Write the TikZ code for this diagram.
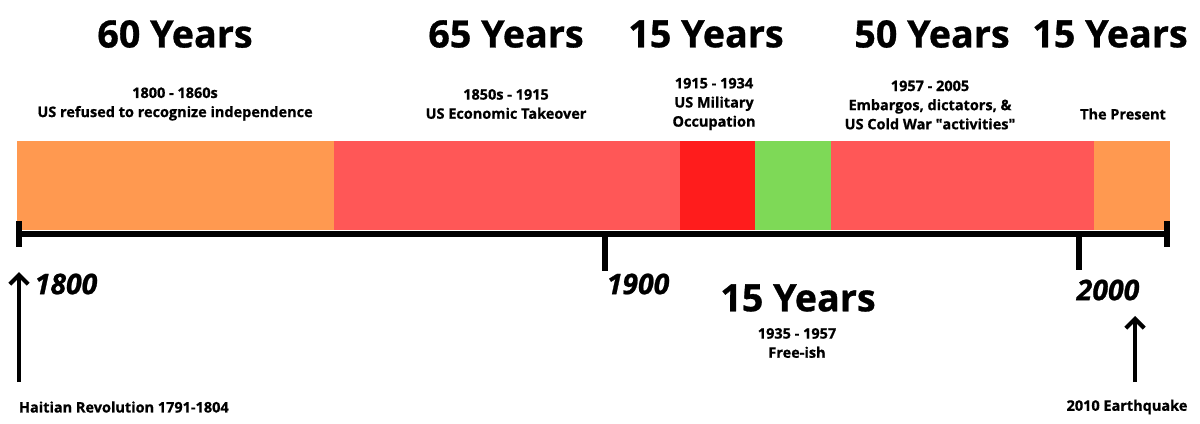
\documentclass[tikz,border=0pt]{standalone}
\usepackage{fontspec}
\setmainfont{Open Sans}[BoldFeatures={FakeBold=0.8},BoldItalicFeatures={FakeBold=0.8}]
\usepackage{tikz}
\usetikzlibrary{arrows.meta,positioning}
\definecolor{haitiorange}{HTML}{FF9950}
\definecolor{haitirose}{HTML}{FF5757}
\definecolor{haitired}{HTML}{FF1C1C}
\definecolor{haitigreen}{HTML}{7ED957}
\tikzset{
  era/.style={font=\fontsize{26.8}{30}\selectfont\bfseries},
  info/.style={font=\fontsize{10.3}{13.6}\selectfont\bfseries, align=center},
  yearlabel/.style={font=\fontsize{20.2}{24}\selectfont\bfseries\itshape},
  axis/.style={line width=3.6pt},
  pointer/.style={line width=3pt, -{Straight Barb[length=6.5pt,width=13pt,line width=3pt]}}
}
\begin{document}
\begin{tikzpicture}[x=0.025cm,y=-0.025cm]
\useasboundingbox (0,0) rectangle (1200,423);
% coloured periods
\fill[haitiorange] (17,141) rectangle (334,230);
\fill[haitirose] (334,141) rectangle (680,230);
\fill[haitired] (680,141) rectangle (755,230);
\fill[haitigreen] (755,141) rectangle (831,230);
\fill[haitirose] (831,141) rectangle (1094,230);
\fill[haitiorange] (1094,141) rectangle (1170,230);
% time axis
\coordinate (start) at (19,234);
\coordinate (end) at (1167,234);
\coordinate (t1900) at (605,234);
\coordinate (t2000) at (1079,234);
\draw[axis] (start) -- (end);
\draw[axis] ([yshift=-9]start) -- ([yshift=9]start);
\draw[axis] ([yshift=-9]end) -- ([yshift=9]end);
\draw[axis] (t1900) -- ++(0,37);
\draw[axis] (t2000) -- ++(0,36);
\node[yearlabel] (y1800) at (66,284) {1800};
\node[yearlabel] (y1900) at (638,284) {1900};
\node[yearlabel] (y2000) at (1108,290) {2000};
% headings
\node[era] (e1) at (175,34) {60 Years};
\node[era] (e2) at (506,34) {65 Years};
\node[era] (e3) at (706,34) {15 Years};
\node[era] (e4) at (932,34) {50 Years};
\node[era] (e5) at (1110,34) {15 Years};
\node[era] (e6) at (798,298) {15 Years};
% descriptions
\node[info] (d1) at (175,104) {1800 - 1860s\\US refused to recognize independence};
\node[info] (d2) at (506,104) {1850s - 1915\\US Economic Takeover};
\node[info] (d3) at (714,104) {1915 - 1934\\US Military\\Occupation};
\node[info] (d4) at (930,105) {1957 - 2005\\Embargos, dictators, \&\\US Cold War \textquotedbl activities\textquotedbl};
\node[info] (d5) at (1123,114) {The Present};
\node[info] (d6) at (797,343) {1935 - 1957\\Free-ish};
% events
\node[info, anchor=west] (revolution) at (14,407) {Haitian Revolution 1791-1804};
\node[info] (quake) at (1127,407) {2010 Earthquake};
\coordinate (revtip) at (19,272);
\coordinate (quaketip) at (1135,316);
\draw[pointer] (19,382) -- (revtip);
\draw[pointer] (1135,382) -- (quaketip);
\end{tikzpicture}
\end{document}
